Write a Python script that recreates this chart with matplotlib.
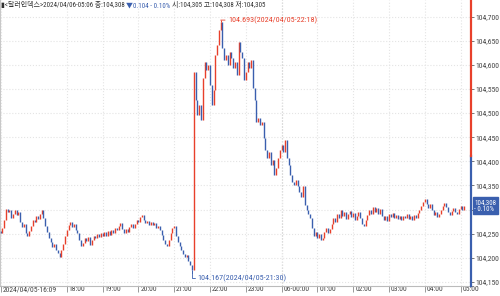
import numpy as np
import matplotlib.pyplot as plt
from matplotlib import font_manager
from matplotlib.ticker import FuncFormatter
from matplotlib.transforms import ScaledTranslation

# 3-minute bars, 2024/04/05 16:09 -> 2024/04/06 05:06
first_open = 104.255
closes = [
    # 16:09 - 16:57
    104.251, 104.262, 104.278, 104.301, 104.295, 104.299, 104.282, 104.291, 104.299,
    104.289, 104.295, 104.274, 104.264, 104.270, 104.251, 104.245, 104.255,
    # 17:00
    104.266, 104.278, 104.274, 104.287, 104.280, 104.291, 104.299, 104.282, 104.266, 104.253,
    104.241, 104.233, 104.222, 104.228, 104.216, 104.210, 104.202, 104.216, 104.228, 104.245,
    # 18:00
    104.258, 104.268, 104.274, 104.264, 104.270, 104.258, 104.251, 104.237, 104.224, 104.231,
    104.241, 104.235, 104.243, 104.226, 104.237, 104.245, 104.241, 104.249, 104.243, 104.251,
    # 19:00
    104.245, 104.253, 104.245, 104.255, 104.247, 104.258, 104.251, 104.262, 104.258, 104.266,
    104.272, 104.260, 104.251, 104.260, 104.253, 104.264, 104.270, 104.262, 104.270, 104.278,
    # 20:00
    104.274, 104.285, 104.289, 104.278, 104.272, 104.276, 104.268, 104.274, 104.268, 104.272,
    104.262, 104.266, 104.258, 104.247, 104.237, 104.228, 104.224, 104.237, 104.251, 104.262,
    # 21:00
    104.266, 104.245, 104.233, 104.224, 104.216, 104.208, 104.202, 104.206, 104.193, 104.185,
    104.175, 104.585, 104.527, 104.496, 104.517, 104.486, 104.573, 104.606, 104.590, 104.600,
    # 22:00
    104.558, 104.517, 104.548, 104.621, 104.641, 104.672, 104.689, 104.635, 104.610, 104.621,
    104.600, 104.627, 104.614, 104.594, 104.606, 104.579, 104.648, 104.627, 104.614, 104.569,
    # 23:00
    104.585, 104.606, 104.594, 104.610, 104.552, 104.527, 104.482, 104.490, 104.475, 104.482,
    104.448, 104.423, 104.407, 104.419, 104.392, 104.403, 104.372, 104.386, 104.407, 104.423,
    # 00:00
    104.434, 104.419, 104.444, 104.407, 104.392, 104.372, 104.357, 104.351, 104.361, 104.349,
    104.336, 104.326, 104.349, 104.309, 104.299, 104.291, 104.282, 104.262, 104.245, 104.253,
    # 01:00
    104.241, 104.249, 104.237, 104.241, 104.253, 104.262, 104.251, 104.260, 104.270, 104.282,
    104.274, 104.291, 104.282, 104.299, 104.287, 104.295, 104.280, 104.291, 104.297, 104.285,
    # 02:00
    104.293, 104.278, 104.287, 104.295, 104.282, 104.270, 104.266, 104.278, 104.289, 104.299,
    104.291, 104.305, 104.295, 104.303, 104.291, 104.301, 104.287, 104.278, 104.287, 104.276,
    # 03:00
    104.291, 104.285, 104.293, 104.282, 104.289, 104.280, 104.287, 104.278, 104.287, 104.282,
    104.291, 104.280, 104.287, 104.278, 104.289, 104.282, 104.293, 104.299, 104.307, 104.316,
    # 04:00
    104.322, 104.312, 104.303, 104.312, 104.299, 104.289, 104.295, 104.285, 104.291, 104.299,
    104.307, 104.314, 104.305, 104.295, 104.289, 104.297, 104.303, 104.295, 104.291, 104.301,
    # 05:00
    104.307, 104.299, 104.308,
]
hi_bar, hi_val = 123, 104.693
lo_bar, lo_val = 107, 104.167
prev_close = 104.412
last_price = 104.308

tick_pos = [0, 37, 57, 77, 97, 117, 137, 157, 177, 197, 217, 237, 257]
tick_labels = ['2024/04/05-16:09', '18:00', '19:00', '20:00', '21:00', '22:00', '23:00',
               '06-00:00', '01:00', '02:00', '03:00', '04:00', '05:00']
y_ticks = [104.15, 104.20, 104.25, 104.30, 104.35, 104.40, 104.45,
           104.50, 104.55, 104.60, 104.65, 104.70]

red = '#e8402b'
blue = '#3a5fae'
txt = '#444444'

# narrow latin font if there is one
narrow = 'Liberation Sans'
for name in ['Liberation Sans Narrow', 'Roboto Condensed', 'DejaVu Sans Condensed']:
    try:
        font_manager.findfont(name, fallback_to_default=False)
        narrow = name
        break
    except ValueError:
        pass
fam = [narrow, 'Noto Sans CJK KR', 'DejaVu Sans']
plt.rcParams['font.family'] = fam

fig = plt.figure(figsize=(5, 2.96), dpi=100)
ax = fig.add_axes([0, 10 / 296, 471 / 500, 286 / 296])

closes = np.array(closes)
opens = np.concatenate([[first_open], closes[:-1]])
idx = np.arange(len(closes))
cols = [red if c > o else (blue if c < o else '#888888') for o, c in zip(opens, closes)]
ax.vlines(idx, opens, closes, colors=cols, lw=1.0, zorder=3)
# wicks at the extremes
ax.vlines([hi_bar], [closes[hi_bar]], [hi_val], colors=red, lw=0.7, zorder=3)
ax.vlines([lo_bar], [lo_val], [closes[lo_bar]], colors=blue, lw=0.7, zorder=3)

ax.set_xlim(-0.28, 262.85)
ax.set_ylim(104.1393 + 0.002, 104.7347)

# grid
ax.set_yticks(y_ticks)
ax.set_xticks(tick_pos, tick_labels)
ax.grid(True, color='#e4e4e4', ls=':', lw=0.8, zorder=0)
ax.axvline(157, color='#b0b0b0', ls=':', lw=0.8, zorder=1)


def yfmt(v, p):
    # the current price box sits on top of this label
    if abs(v - 104.30) < 1e-6:
        return ''
    return f'{v:.3f}'.replace('.', ',')


ax.yaxis.tick_right()
ax.yaxis.set_major_formatter(FuncFormatter(yfmt))
ax.tick_params(axis='y', length=2.5, width=0.7, color='#777777', labelsize=5.5, labelcolor=txt, pad=1)
ax.tick_params(axis='x', length=4.5, width=0.7, color='#999999', labelsize=5.5, labelcolor=txt, pad=-4.3)
for lbl in ax.get_xticklabels():
    lbl.set_ha('left')
    lbl.set_transform(lbl.get_transform() + ScaledTranslation(2 / 100, 0, fig.dpi_scale_trans))

for s in ['top', 'right']:
    ax.spines[s].set_visible(False)
ax.spines['left'].set_color('#c8c8c8')
ax.spines['bottom'].set_color('#bbbbbb')
ax.spines['bottom'].set_linewidth(0.8)

# right axis line coloured around previous close
yt = ax.get_yaxis_transform()
y0, y1 = ax.get_ylim()
ax.plot([1, 1], [y0, prev_close], color=blue, lw=1.6, transform=yt, clip_on=False, zorder=5)
ax.plot([1, 1], [prev_close, y1], color=red, lw=1.6, transform=yt, clip_on=False, zorder=5)

# high / low annotations
ax.annotate(f'{hi_val:.3f}(2024/04/05-22:18)', xy=(hi_bar, hi_val), xytext=(hi_bar + 4.0, hi_val),
            color=red, fontsize=5.8, va='center', ha='left',
            arrowprops=dict(arrowstyle='-', color=red, lw=0.6, shrinkA=0, shrinkB=0))
ax.annotate(f'{lo_val:.3f}(2024/04/05-21:30)', xy=(lo_bar, lo_val), xytext=(lo_bar + 3.2, 104.158),
            color=blue, fontsize=5.8, va='center', ha='left',
            arrowprops=dict(arrowstyle='-', color=blue, lw=0.6, shrinkA=0, shrinkB=0,
                            connectionstyle='angle,angleA=0,angleB=90,rad=0'))

# current price box
ax.annotate(f'{last_price:.3f}'.replace('.', ',') + '\n- 0.10%', xy=(1, last_price), xycoords=yt,
            xytext=(2.5, 0), textcoords='offset points', color='white', fontsize=5,
            va='center', ha='left', linespacing=1.0, zorder=6, annotation_clip=False,
            bbox=dict(boxstyle='square,pad=0.25', fc=blue, ec=blue))

# header text
parts = [('▮<달러인덱스>2024/04/06-05:06 종:104,308 ', '#333333'),
         ('▼0.104 - 0.10% ', blue),
         ('시:104,305 고:104,308 저:104,305', '#333333')]
fig.canvas.draw()
r = fig.canvas.get_renderer()
xpos = 1
for s, c in parts:
    t = fig.text(xpos / 500, 1 - 6 / 296, s, color=c, fontsize=5, va='center', ha='left')
    xpos = t.get_window_extent(r).x1

fig.savefig('out.png', dpi=100)
